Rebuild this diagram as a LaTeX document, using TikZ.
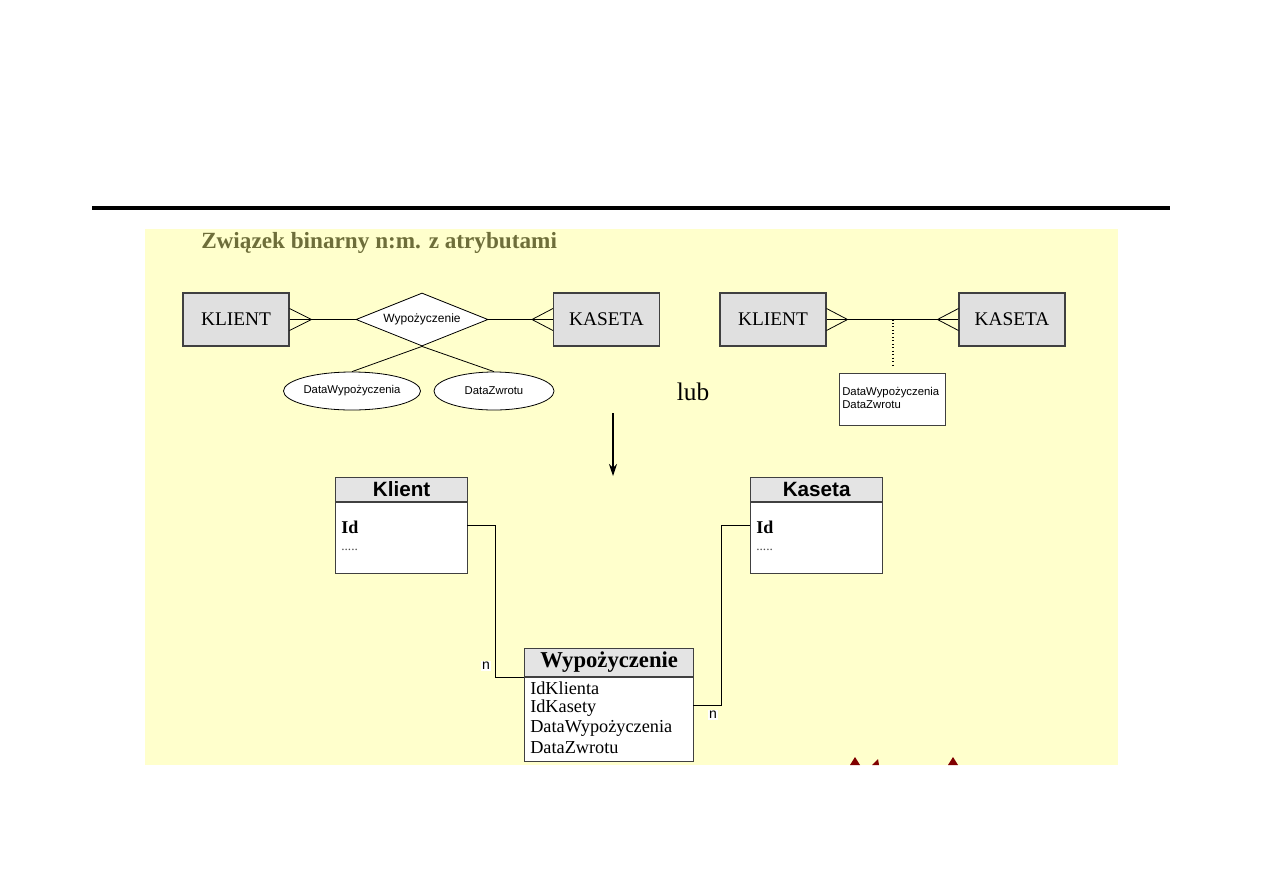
\documentclass[tikz,border=0pt]{standalone}
\usepackage{fontspec}
\setmainfont{Liberation Serif}
\newfontfamily\arialf{Liberation Sans}
\usetikzlibrary{shapes.geometric,arrows.meta,calc}
\definecolor{bgyellow}{RGB}{255,255,204}
\definecolor{titleolive}{RGB}{110,110,58}
\definecolor{entgray}{RGB}{224,224,224}
\definecolor{hdrgray}{RGB}{228,228,228}
\definecolor{bordergray}{RGB}{64,64,64}
\definecolor{spikered}{RGB}{128,0,0}
\tikzset{
  entity/.style={draw=bordergray, fill=entgray, line width=0.8pt, minimum width=79.5pt, minimum height=39.75pt, inner sep=0pt, font=\fontsize{14.5}{16}\selectfont},
  relation/.style={draw=black, fill=white, diamond, aspect=2.5, line width=0.6pt, minimum width=99pt, minimum height=39.75pt, inner sep=0pt, font=\arialf\fontsize{9}{10}\selectfont},
  attr/.style={draw=black, fill=white, ellipse, line width=0.6pt, minimum width=90pt, minimum height=28.5pt, inner sep=0pt, font=\arialf\fontsize{8.5}{10}\selectfont},
  attrbox/.style={draw=bordergray, fill=white, line width=0.6pt, minimum width=79.5pt, minimum height=39pt, inner sep=0pt},
  attrtxt/.style={inner sep=0pt, align=left, font=\arialf\fontsize{8.5}{9.8}\selectfont},
  link/.style={draw=black, line width=0.6pt},
  tblhdr/.style={draw=bordergray, fill=hdrgray, line width=1pt, inner sep=0pt},
  tblbody/.style={draw=bordergray, fill=white, line width=1pt, inner sep=0pt},
  cardlbl/.style={fill=white, inner sep=1pt, font=\arialf\fontsize{10.5}{12}\selectfont},
  rowtxt/.style={anchor=west, inner sep=0pt, font=\fontsize{13.7}{15}\selectfont}
}
\begin{document}
\begin{tikzpicture}[x=0.75pt,y=-0.75pt]
\useasboundingbox (0,0) rectangle (1263,893);
% top rule
\draw[line width=3pt] (92,208) -- (1170,208);
% yellow background
\fill[bgyellow] (145,229) rectangle (1118,765);
% title
\node[anchor=base west, inner sep=0pt, text=titleolive, font=\bfseries\fontsize{17.4}{20}\selectfont] (title) at (201,248) {Związek binarny n:m. z atrybutami};

% ---- left ER ----
\node[entity] (k1) at (236,319.5) {KLIENT};
\node[entity] (c1) at (606.5,319.5) {KASETA};
\node[relation] (r1) at (422,319.5) {Wypożyczenie};
\coordinate (k1f) at ($(k1.east)+(22,0)$);
\coordinate (c1f) at ($(c1.west)+(-21,0)$);
\draw[link] (k1.east) -- (r1.west);
\draw[link] ($(k1.east)+(0,-11)$) -- (k1f) -- ($(k1.east)+(0,11)$);
\draw[link] (r1.east) -- (c1.west);
\draw[link] ($(c1.west)+(0,-11)$) -- (c1f) -- ($(c1.west)+(0,11)$);
\node[attr] (a1) at (352,391) {DataWypożyczenia};
\node[attr] (a2) at (494,391) {DataZwrotu};
\draw[link] (r1.south) -- (a1.north);
\draw[link] (r1.south) -- (a2.north);

% lub
\node[inner sep=0pt, font=\fontsize{19}{22}\selectfont] (lub) at (693,392) {lub};

% ---- right ER ----
\node[entity] (k2) at (773,319.5) {KLIENT};
\node[entity] (c2) at (1012,319.5) {KASETA};
\coordinate (k2f) at ($(k2.east)+(21,0)$);
\coordinate (c2f) at ($(c2.west)+(-21,0)$);
\draw[link] (k2.east) -- (c2.west);
\draw[link] ($(k2.east)+(0,-11)$) -- (k2f) -- ($(k2.east)+(0,11)$);
\draw[link] ($(c2.west)+(0,-11)$) -- (c2f) -- ($(c2.west)+(0,11)$);
\node[attrbox, anchor=north west] (ab) at (839,373) {};
\node[attrtxt, anchor=north west] (abt) at (842,387) {DataWypożyczenia\\DataZwrotu};
\coordinate (mid) at (893,319.5);
\coordinate (midb) at (893,366);
\draw[link, dotted, line width=0.9pt] (mid) -- (midb);

% arrow down
\coordinate (arS) at (613,413);
\coordinate (arE) at (613,476);
\draw[line width=0.8pt, -{Stealth[length=9pt,width=6pt]}] (arS) -- (arE);

% ---- Klient table ----
\node[tblbody, minimum width=99pt, minimum height=53.25pt, anchor=north west] (kb) at (335,502) {};
\node[tblhdr, minimum width=99pt, minimum height=18pt, anchor=south west, font=\arialf\bfseries\fontsize{15.5}{17}\selectfont] (kh) at (335,502) {Klient};
\node[rowtxt, font=\bfseries\fontsize{13.5}{15}\selectfont] (kid) at (341,527) {Id};
\node[rowtxt, text=black!70, font=\fontsize{10}{12}\selectfont] (kdots) at (341,550) {.....};

% ---- Kaseta table ----
\node[tblbody, minimum width=99pt, minimum height=53.25pt, anchor=north west] (sb) at (750,502) {};
\node[tblhdr, minimum width=99pt, minimum height=18pt, anchor=south west, font=\arialf\bfseries\fontsize{15.5}{17}\selectfont] (sh) at (750,502) {Kaseta};
\node[rowtxt, font=\bfseries\fontsize{13.5}{15}\selectfont] (sid) at (756,527) {Id};
\node[rowtxt, text=black!70, font=\fontsize{10}{12}\selectfont] (sdots) at (756,550) {.....};

% ---- Wypozyczenie table ----
\node[tblbody, minimum width=126.75pt, minimum height=63pt, anchor=north west] (wb) at (524,677) {};
\node[tblhdr, minimum width=126.75pt, minimum height=21pt, anchor=south west, font=\bfseries\fontsize{17}{19}\selectfont] (wh) at (524,677) {Wypożyczenie};
\node[rowtxt] (w1) at (530,688) {IdKlienta};
\node[rowtxt] (w2) at (530,708) {IdKasety};
\node[rowtxt] (w3) at (530,728) {DataWypożyczenia};
\node[rowtxt] (w4) at (530,748) {DataZwrotu};

% connectors
\coordinate (kc) at (467,525);
\coordinate (sc) at (750,525);
\coordinate (wc) at (693,705);
\draw[link] (kc) -- (495,525) -- (495,677) -- (wh.south west);
\draw[link] (wc) -- (721,705) -- (721,525) -- (sc);
\node[cardlbl] (n1) at (486,666) {n};
\node[cardlbl] (n2) at (713,715) {n};

% red spikes
\fill[spikered] (850,765) -- (855,757) -- (860,765) -- cycle;
\fill[spikered] (872,765) -- (878,759) -- (879,765) -- cycle;
\fill[spikered] (948,765) -- (953,757) -- (958,765) -- cycle;
\end{tikzpicture}
\end{document}
